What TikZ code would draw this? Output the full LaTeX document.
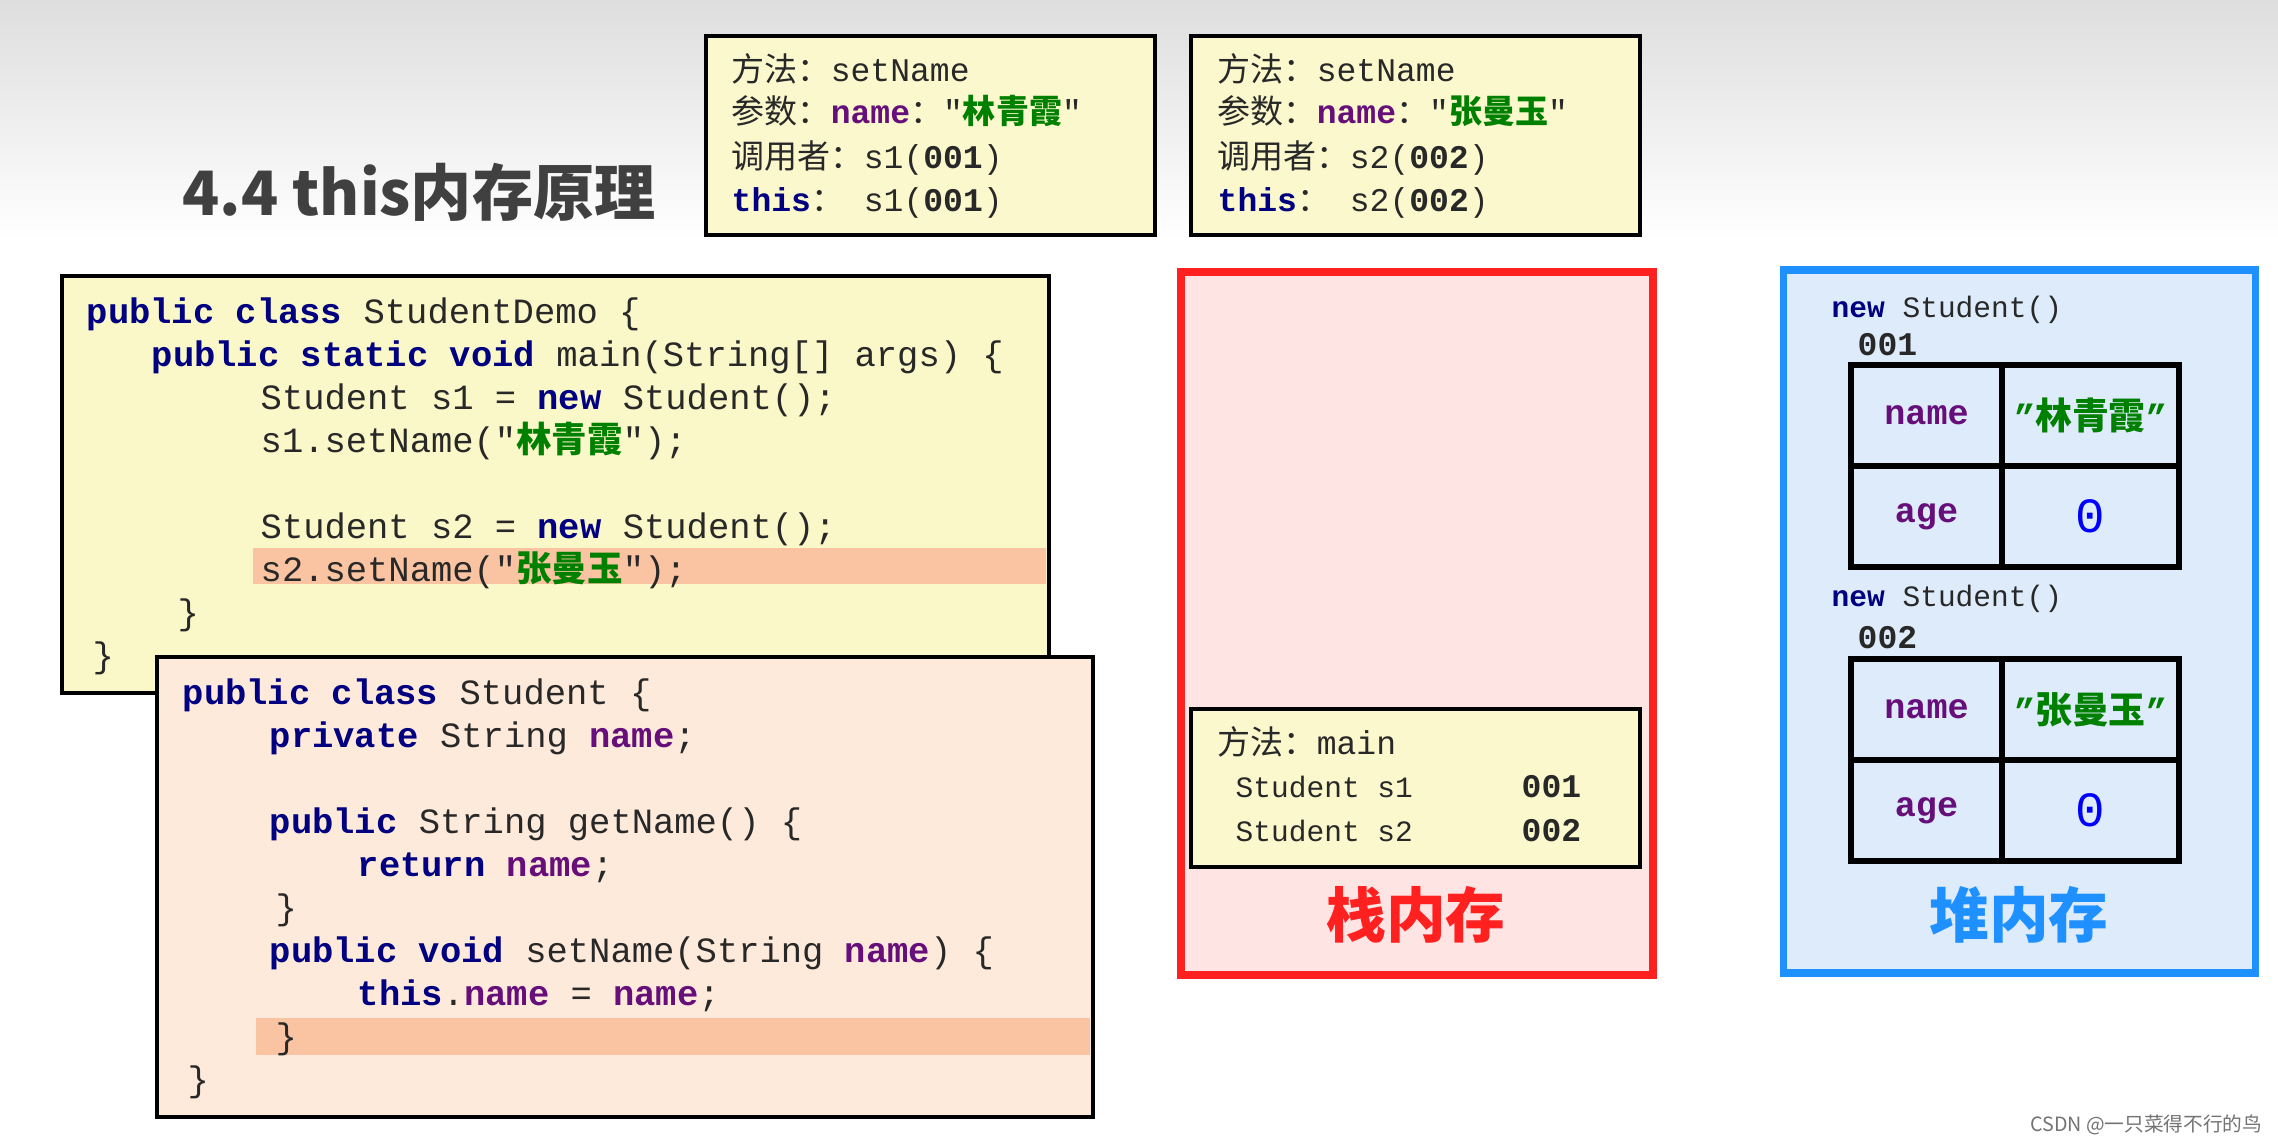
\documentclass[tikz,border=0pt]{standalone}
\usepackage{fontspec}
\setmainfont{Liberation Sans}
\setmonofont{Liberation Mono}
\newfontfamily\cjk{Noto Sans CJK SC}
\usetikzlibrary{positioning}
\definecolor{kwblue}{RGB}{0, 0, 128}
\definecolor{fieldpurple}{RGB}{102, 14, 122}
\definecolor{strgreen}{RGB}{0, 128, 0}
\definecolor{numblue}{RGB}{0, 0, 255}
\definecolor{codegray}{RGB}{40, 40, 40}
\definecolor{titlegray}{RGB}{64, 64, 64}
\definecolor{noteyellow}{RGB}{250, 248, 204}
\definecolor{demoyellow}{RGB}{250, 247, 200}
\definecolor{studentpeach}{RGB}{253, 234, 218}
\definecolor{hlpeach}{RGB}{250, 196, 162}
\definecolor{stackpink}{RGB}{255, 228, 228}
\definecolor{stackred}{RGB}{255, 32, 32}
\definecolor{heapfill}{RGB}{221, 235, 250}
\definecolor{heapblue}{RGB}{30, 144, 255}

\newcommand{\kw}[1]{\textbf{\color{kwblue}#1}}
\newcommand{\fld}[1]{\textbf{\color{fieldpurple}#1}}
\newcommand{\zh}[1]{{\cjk #1}}
\newcommand{\jstr}[1]{\textbf{\color{strgreen}#1}}

\begin{document}
\begin{tikzpicture}[
    note/.style={draw, line width=1.2pt, fill=noteyellow, minimum width=4.49cm,
                 minimum height=1.99cm, inner sep=0, outer sep=0},
    codebox/.style={draw, line width=1pt, inner sep=0, outer sep=0},
    memory/.style={line width=2.2pt, minimum width=4.72cm, minimum height=7.03cm,
                   inner sep=0, outer sep=0},
    codeline/.style={anchor=base west, inner sep=0, text=codegray,
                     font=\ttfamily\fontsize{10.1}{12}\selectfont},
    noteline/.style={anchor=base west, inner sep=0, text=codegray,
                     font=\ttfamily\fontsize{9.4}{11}\selectfont},
    smallline/.style={anchor=base west, inner sep=0, text=codegray,
                      font=\ttfamily\fontsize{8.4}{10}\selectfont},
    keycell/.style={draw, line width=1.8pt, minimum width=1.51cm, minimum height=1.01cm,
                    inner sep=0, outer sep=0, font=\ttfamily\bfseries\fontsize{10}{12}\selectfont,
                    text=fieldpurple},
    valcell/.style={draw, line width=1.8pt, minimum width=1.77cm, minimum height=1.01cm,
                    inner sep=0, outer sep=0},
    bigtitle/.style={inner sep=0, font=\cjk\bfseries\fontsize{17}{20}\selectfont}
]
    \useasboundingbox (0,0) rectangle (22.78,-11.45);
    \fill[white] (0,0) rectangle (22.78,-11.45);
    \fill[top color=black!13, bottom color=white] (0,0) rectangle (22.78,-2.4);

    % ==================== TITLE ====================
    \node[anchor=west, inner sep=0, text=titlegray,
          font=\cjk\bfseries\fontsize{17.4}{20}\selectfont] (title) at (1.82,-1.92)
          {4.4 this内存原理};

    % ==================== SETNAME FRAMES ====================
    \node[note] (callone) at (9.305,-1.355) {};
    \node[noteline] (callone1) at (7.31,-0.81) {\zh{方法：}setName};
    \node[noteline] (callone2) at (7.31,-1.23) {\zh{参数：}\fld{name}\zh{：}"\jstr{\zh{林青霞}}"};
    \node[noteline] (callone3) at (7.31,-1.68) {\zh{调用者：}s1(\textbf{001})};
    \node[noteline] (callone4) at (7.31,-2.11) {\kw{this}\zh{：} s1(\textbf{001})};

    \node[note] (calltwo) at (14.155,-1.355) {};
    \node[noteline] (calltwo1) at (12.17,-0.81) {\zh{方法：}setName};
    \node[noteline] (calltwo2) at (12.17,-1.23) {\zh{参数：}\fld{name}\zh{：}"\jstr{\zh{张曼玉}}"};
    \node[noteline] (calltwo3) at (12.17,-1.68) {\zh{调用者：}s2(\textbf{002})};
    \node[noteline] (calltwo4) at (12.17,-2.11) {\kw{this}\zh{：} s2(\textbf{002})};

    % ==================== STUDENTDEMO CODE ====================
    \node[codebox, fill=demoyellow, minimum width=9.87cm, minimum height=4.17cm]
          (demo) at (5.555,-4.845) {};
    \fill[hlpeach] (2.53,-5.48) rectangle (10.46,-5.84);
    \node[codeline] (demo1) at (0.86,-3.23) {\kw{public class} StudentDemo \{};
    \node[codeline] (demo2) at (1.51,-3.66) {\kw{public static void} main(String[] args) \{};
    \node[codeline] (demo3) at (2.60,-4.09) {Student s1 = \kw{new} Student();};
    \node[codeline] (demo4) at (2.60,-4.52) {s1.setName("\jstr{\zh{林青霞}}");};
    \node[codeline] (demo5) at (2.60,-5.38) {Student s2 = \kw{new} Student();};
    \node[codeline] (demo6) at (2.60,-5.81) {s2.setName("\jstr{\zh{张曼玉}}");};
    \node[codeline] (demo7) at (1.77,-6.24) {\}};
    \node[codeline] (demo8) at (0.92,-6.67) {\}};

    % ==================== STUDENT CODE ====================
    \node[codebox, fill=studentpeach, minimum width=9.36cm, minimum height=4.60cm]
          (student) at (6.25,-8.87) {};
    \fill[hlpeach] (2.56,-10.18) rectangle (10.90,-10.55);
    \node[codeline] (stu1) at (1.82,-7.04) {\kw{public class} Student \{};
    \node[codeline] (stu2) at (2.69,-7.47) {\kw{private} String \fld{name};};
    \node[codeline] (stu3) at (2.69,-8.33) {\kw{public} String getName() \{};
    \node[codeline] (stu4) at (3.57,-8.76) {\kw{return} \fld{name};};
    \node[codeline] (stu5) at (2.75,-9.19) {\}};
    \node[codeline] (stu6) at (2.69,-9.62) {\kw{public void} setName(String \fld{name}) \{};
    \node[codeline] (stu7) at (3.57,-10.05) {\kw{this}.\fld{name} = \fld{name};};
    \node[codeline] (stu8) at (2.75,-10.48) {\}};
    \node[codeline] (stu9) at (1.87,-10.91) {\}};

    % ==================== STACK ====================
    \node[memory, draw=stackred, fill=stackpink] (stack) at (14.17,-6.235) {};
    \node[note, minimum height=1.58cm] (mainframe) at (14.155,-7.88) {};
    \node[noteline] (main1) at (12.17,-7.54) {\zh{方法：}main};
    \node[smallline] (main2) at (12.35,-7.97) {Student s1};
    \node[noteline] (main3) at (15.21,-7.97) {\textbf{001}};
    \node[smallline] (main4) at (12.35,-8.41) {Student s2};
    \node[noteline] (main5) at (15.21,-8.41) {\textbf{002}};
    \node[bigtitle, text=stackred] (stacklabel) at (14.16,-9.15) {栈内存};

    % ==================== HEAP ====================
    \node[memory, draw=heapblue, fill=heapfill] (heap) at (20.195,-6.215) {};
    \node[smallline] (newone) at (18.31,-3.17) {\kw{new} Student()};
    \node[noteline] (addrone) at (18.57,-3.55) {\textbf{001}};
    \node[keycell] (nameone) at (19.265,-4.155) {name};
    \node[valcell] (valone) at (20.905,-4.155)
          {\jstr{\ttfamily ”\zh{\fontsize{10.5}{12}\selectfont 林青霞}”}};
    \node[keycell] (ageone) at (19.265,-5.165) {age};
    \node[valcell] (zeroone) at (20.905,-5.165)
          {\textcolor{numblue}{\ttfamily\fontsize{14}{16}\selectfont 0}};

    \node[smallline] (newtwo) at (18.31,-6.06) {\kw{new} Student()};
    \node[noteline] (addrtwo) at (18.57,-6.48) {\textbf{002}};
    \node[keycell] (nametwo) at (19.265,-7.095) {name};
    \node[valcell] (valtwo) at (20.905,-7.095)
          {\jstr{\ttfamily ”\zh{\fontsize{10.5}{12}\selectfont 张曼玉}”}};
    \node[keycell] (agetwo) at (19.265,-8.105) {age};
    \node[valcell] (zerotwo) at (20.905,-8.105)
          {\textcolor{numblue}{\ttfamily\fontsize{14}{16}\selectfont 0}};
    \node[bigtitle, text=heapblue] (heaplabel) at (20.19,-9.15) {堆内存};

    % watermark
    \node[anchor=east, inner sep=0, text=black!55, font=\cjk\fontsize{5.6}{6}\selectfont]
          (mark) at (22.63,-11.25) {CSDN @一只菜得不行的鸟};
\end{tikzpicture}
\end{document}
